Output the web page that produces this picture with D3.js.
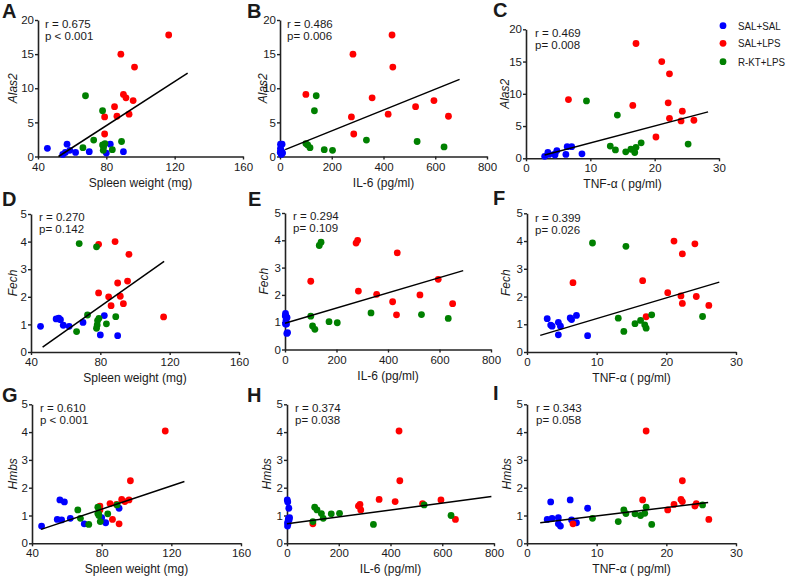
<!DOCTYPE html>
<html><head><meta charset="utf-8">
<script src="https://cdn.jsdelivr.net/npm/d3@7"></script>
<style>
body{margin:0;background:#fff;}
svg text{font-family:"Liberation Sans",Arial,sans-serif;fill:#1a1a1a;}
</style></head>
<body><svg id="c" width="790" height="578"></svg>
<script>
// ---- data (groups: SAL+SAL, SAL+LPS, R-KT+LPS) ----
const groups = ["SAL+SAL", "SAL+LPS", "R-KT+LPS"];
const colors = ["#0000ff", "#ff0000", "#008000"];

const spleen = [
  [45.5, 54.5, 56, 57, 58.6, 62, 70, 80, 82.3, 90],
  [90, 79, 88.5, 79, 91.5, 96.5, 93.3, 116.5, 84.8, 95.7, 86.2],
  [67.8, 77.8, 79.2, 66.3, 83.5, 78.4, 78.2, 77.8, 72.6, 88.9]
];
const il6 = [
  [2, 5, 1, 8, 3, 6, 4, 10, 2, 7],
  [100, 276, 282, 285, 356, 436, 418, 433, 524, 595, 651],
  [140, 133, 100, 116, 171, 634, 203, 107, 334, 530]
];
const tnf = [
  [4.8, 2.9, 6.2, 6.4, 3.4, 3.6, 4.5, 4.5, 7.1, 8.7],
  [6.6, 24.1, 21.1, 20.2, 22.1, 22.3, 22.3, 17.1, 24.3, 16.6, 26.1],
  [9.4, 14.2, 13.1, 13.9, 15.5, 16.3, 16.9, 17.1, 17.9, 25.2]
];
const alas2 = [
  [1.2, 0.3, 0.6, 1.8, 0.9, 0.6, 0.7, 0.5, 1.8, 0.7],
  [9.1, 5.8, 15.0, 3.3, 8.6, 13.1, 6.2, 17.8, 7.3, 8.2, 5.9],
  [8.9, 6.7, 1.9, 1.3, 1.0, 1.4, 0.9, 1.7, 2.4, 2.2]
];
const fech = [
  [0.93, 1.2, 1.23, 1.17, 0.97, 0.93, 1.07, 0.62, 1.32, 0.59],
  [2.5, 3.9, 4.0, 2.14, 2.02, 3.54, 1.75, 1.27, 2.0, 2.57, 1.68],
  [3.93, 3.81, 1.22, 0.74, 1.02, 1.14, 0.98, 0.86, 1.34, 1.28]
];
const hmbs = [
  [0.62, 0.86, 1.56, 0.84, 1.49, 0.9, 0.7, 0.92, 0.74, 1.26],
  [0.7, 1.34, 1.4, 1.2, 1.58, 2.25, 1.5, 4.04, 1.43, 1.56, 0.86],
  [0.9, 1.07, 0.78, 1.2, 1.06, 1.0, 1.08, 1.3, 0.68, 1.38]
];

// axis tick labels
const spleenTicks = [40, 80, 120, 160];
const il6Ticks = [0, 200, 400, 600, 800];
const tnfTicks = [0, 10, 20, 30];
const alasTicks = [0, 5, 10, 15, 20];
const smallTicks = [0, 1, 2, 3, 4, 5];

// panel letters and statistics
const letters = ["A", "B", "C", "D", "E", "F", "G", "H", "I"];
const statR = ["r = 0.675", "r = 0.486", "r = 0.469", "r = 0.270", "r = 0.294", "r = 0.399", "r = 0.610", "r = 0.374", "r = 0.343"];
const statP = ["p < 0.001", "p= 0.006", "p= 0.008", "p= 0.142", "p= 0.109", "p= 0.026", "p < 0.001", "p= 0.038", "p= 0.058"];
// regression line end points (x, y in data units)
const fits = [
  [[52, 0], [127.6, 12.2]],
  [[20, 1.0], [694, 11.3]],
  [[2.9, 0.5], [28.3, 7.2]],
  [[46.7, 0.18], [116.8, 3.28]],
  [[0, 0.96], [692, 2.89]],
  [[1.9, 0.6], [27.6, 2.52]],
  [[45.2, 0.5], [127.5, 2.22]],
  [[0, 0.7], [790, 1.68]],
  [[1.9, 0.74], [26, 1.47]]
];

const xVars = [
  {v: spleen, d: [40, 160], t: spleenTicks, label: "Spleen weight (mg)"},
  {v: il6, d: [0, 800], t: il6Ticks, label: "IL-6 (pg/ml)"},
  {v: tnf, d: [0, 30], t: tnfTicks, label: "TNF-\u03b1 ( pg/ml)"}
];
const yVars = [
  {v: alas2, d: [0, 20], t: alasTicks, label: "Alas2"},
  {v: fech, d: [0, 5], t: smallTicks, label: "Fech"},
  {v: hmbs, d: [0, 5], t: smallTicks, label: "Hmbs"}
];

// ---- layout (pixel boxes per panel) ----
const boxes = [
  {x0: 38, x1: 243, y0: 156.5, y1: 20},
  {x0: 280, x1: 487, y0: 156.5, y1: 20},
  {x0: 526, x1: 719, y0: 158.3, y1: 29.3},
  {x0: 31, x1: 239, y0: 352, y1: 214},
  {x0: 285, x1: 491, y0: 349.5, y1: 213},
  {x0: 527, x1: 736, y0: 352, y1: 213.3},
  {x0: 32, x1: 241, y0: 543.3, y1: 404.3},
  {x0: 287, x1: 494, y0: 543.3, y1: 404.3},
  {x0: 527, x1: 736, y0: 543.3, y1: 404.3}
];
const letterPos = [[2, 18], [247, 18], [493, 17], [2, 206], [248, 206], [493, 205], [2, 402], [247, 402], [493, 400]];
const statPos = [[45, 28], [287, 28], [535, 36.5], [39, 220.5], [293, 220], [535, 221.5], [40, 412], [295, 412], [536, 412]];
const yTitleX = [13, 263, 505, 13, 264, 506, 13, 267, 507];

const svg = d3.select("#c");

function styleAxis(g) {
  g.select(".domain").attr("stroke", "#222").attr("stroke-width", 1.6);
  g.selectAll(".tick line").attr("stroke", "#222").attr("stroke-width", 1.4);
  g.selectAll(".tick text").attr("font-size", "11.5px").attr("fill", "#1a1a1a");
}

for (let i = 0; i < 9; i++) {
  const row = Math.floor(i / 3), col = i % 3;
  const xv = xVars[col], yv = yVars[row], b = boxes[i];
  const xs = d3.scaleLinear().domain(xv.d).range([b.x0, b.x1]);
  const ys = d3.scaleLinear().domain(yv.d).range([b.y0, b.y1]);
  const g = svg.append("g");

  g.append("g").attr("transform", `translate(0,${b.y0})`)
    .call(d3.axisBottom(xs).tickValues(xv.t).tickSize(3).tickSizeOuter(0).tickPadding(3).tickFormat(d3.format("d")))
    .call(styleAxis);
  g.append("g").attr("transform", `translate(${b.x0},0)`)
    .call(d3.axisLeft(ys).tickValues(yv.t).tickSize(3).tickSizeOuter(0).tickPadding(1).tickFormat(d3.format("d")))
    .call(styleAxis);

  // points
  for (let k = 0; k < 3; k++) {
    const pts = xv.v[k].map((x, j) => [x, yv.v[k][j]]);
    g.selectAll(null).data(pts).enter().append("circle")
      .attr("cx", d => xs(d[0])).attr("cy", d => ys(d[1]))
      .attr("r", 3.4).attr("fill", colors[k]);
  }
  // fit line
  g.append("path").datum(fits[i])
    .attr("d", d3.line().x(d => xs(d[0])).y(d => ys(d[1])))
    .attr("stroke", "#000").attr("stroke-width", 1.5).attr("fill", "none");

  // titles
  g.append("text").attr("x", (b.x0 + b.x1) / 2).attr("y", b.y0 + 30)
    .attr("text-anchor", "middle").attr("font-size", "12px").text(xv.label);
  g.append("text").attr("transform", `translate(${yTitleX[i]},${(b.y0 + b.y1) / 2}) rotate(-90)`)
    .attr("text-anchor", "middle").attr("font-size", "12px").attr("font-style", "italic")
    .attr("dy", "0.35em").text(yv.label);

  // letter
  g.append("text").attr("x", letterPos[i][0]).attr("y", letterPos[i][1])
    .attr("font-size", "20px").attr("font-weight", "bold").attr("fill", "#000").text(letters[i]);
  // stats
  g.append("text").attr("x", statPos[i][0]).attr("y", statPos[i][1])
    .attr("font-size", "11.5px").text(statR[i]);
  g.append("text").attr("x", statPos[i][0]).attr("y", statPos[i][1] + 12)
    .attr("font-size", "11.5px").text(statP[i]);
}

// legend
const legY = [25.7, 43.3, 61.7];
const leg = svg.append("g");
groups.forEach((name, k) => {
  leg.append("circle").attr("cx", 723).attr("cy", legY[k]).attr("r", 3.4).attr("fill", colors[k]);
  leg.append("text").attr("transform", `translate(738,${legY[k]}) scale(0.85,1)`).attr("dy", "0.36em")
    .attr("font-size", "11.5px").text(name);
});
</script>
</body></html>
